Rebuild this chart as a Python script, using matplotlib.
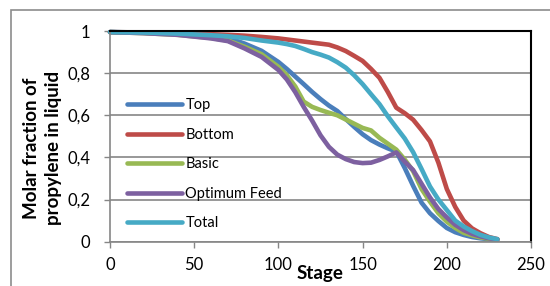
import matplotlib
matplotlib.use("Agg")
import matplotlib.pyplot as plt
from matplotlib.patches import Rectangle

plt.rcParams['font.family'] = ['Lato', 'DejaVu Sans']

# =============================================================================
# data
# =============================================================================
stage = [0, 20, 40, 60, 70, 80, 90, 100, 105, 110, 115, 120, 125, 130, 135,
         140, 145, 150, 155, 160, 165, 170, 175, 180, 185, 190, 195, 200,
         205, 210, 215, 220, 225, 230]

top = [0.995, 0.992, 0.987, 0.978, 0.968, 0.94, 0.906, 0.853, 0.82, 0.784,
       0.748, 0.711, 0.677, 0.646, 0.62, 0.582, 0.545, 0.51, 0.482, 0.461,
       0.443, 0.428, 0.35, 0.265, 0.185, 0.135, 0.098, 0.065, 0.045, 0.032,
       0.022, 0.016, 0.012, 0.01]
bottom = [0.995, 0.993, 0.99, 0.985, 0.982, 0.978, 0.972, 0.965, 0.96, 0.955,
          0.95, 0.945, 0.94, 0.935, 0.922, 0.905, 0.882, 0.858, 0.82, 0.778,
          0.71, 0.636, 0.61, 0.579, 0.53, 0.476, 0.375, 0.25, 0.165, 0.10,
          0.063, 0.04, 0.022, 0.012]
basic = [0.995, 0.99, 0.982, 0.967, 0.955, 0.925, 0.89, 0.83, 0.79, 0.737,
         0.665, 0.64, 0.625, 0.612, 0.6, 0.58, 0.56, 0.54, 0.528, 0.493,
         0.465, 0.437, 0.39, 0.335, 0.25, 0.19, 0.135, 0.095, 0.065, 0.042,
         0.03, 0.02, 0.014, 0.01]
optimum = [0.995, 0.99, 0.982, 0.965, 0.952, 0.917, 0.877, 0.815, 0.77, 0.71,
           0.64, 0.575, 0.505, 0.45, 0.413, 0.392, 0.378, 0.373, 0.375, 0.388,
           0.405, 0.424, 0.38, 0.34, 0.275, 0.21, 0.155, 0.115, 0.08, 0.055,
           0.037, 0.025, 0.016, 0.01]
total = [0.995, 0.993, 0.988, 0.98, 0.975, 0.967, 0.955, 0.945, 0.938, 0.929,
         0.915, 0.9, 0.888, 0.874, 0.852, 0.826, 0.79, 0.748, 0.7, 0.653,
         0.595, 0.542, 0.49, 0.425, 0.345, 0.262, 0.2, 0.15, 0.1, 0.072,
         0.05, 0.032, 0.02, 0.012]

names = ["Top", "Bottom", "Basic", "Optimum Feed", "Total"]
colors = ["#4A7EBB", "#BE4B48", "#98B954", "#7D60A0", "#46AAC5"]
series = [top, bottom, basic, optimum, total]

yticks = [0, 0.2, 0.4, 0.6, 0.8, 1]
ytick_labels = ["0", "0,2", "0,4", "0,6", "0,8", "1"]
xticks = [0, 50, 100, 150, 200, 250]

# =============================================================================
# figure
# =============================================================================
fig = plt.figure(figsize=(5.5, 2.86), dpi=100)
ax = fig.add_axes([0.2, 0.155, 0.7655, 0.7365])

grey = "#868686"
for name, col, vals in zip(names, colors, series):
    ax.plot(stage, vals, color=col, lw=3.3, label=name,
            solid_capstyle='round', solid_joinstyle='round', clip_on=False)

ax.set_xlim(0, 250)
ax.set_ylim(0, 1)
ax.set_xticks(xticks)
ax.set_yticks(yticks)
ax.set_yticklabels(ytick_labels)
ax.grid(axis='y', color=grey, lw=1.2)
ax.set_axisbelow(True)

ax.tick_params(direction='out', length=4.3, width=1, color=grey,
               labelsize=12, colors='black')
ax.tick_params(axis='y', pad=10)
ax.tick_params(axis='x', pad=7)
for s in ['left', 'bottom']:
    ax.spines[s].set_color(grey)
    ax.spines[s].set_linewidth(1.2)
for s in ['top', 'right']:
    ax.spines[s].set_color('black')
    ax.spines[s].set_linewidth(1.5)

fig.text(0.582, 0.0245, "Stage", fontsize=13.5, fontweight='bold',
         ha='center', va='baseline')
fig.text(0.078, 0.483, "Molar fraction of\npropylene in liquid", fontsize=13.5,
         fontweight='bold', rotation=90, ha='center', va='center',
         linespacing=1.35, multialignment='center')

ax.legend(loc='upper left', bbox_to_anchor=(127 / 550, 1 - 98 / 286),
          bbox_transform=fig.transFigure, frameon=False, fontsize=10.5,
          handlelength=3.77, handletextpad=0.24, labelspacing=1.07,
          borderpad=0, borderaxespad=0)

# outer chart border (cropped on right and bottom)
fig.add_artist(Rectangle((11 / 550, -0.2), 1.2, 1.2 - 10 / 286,
                         transform=fig.transFigure, fill=False,
                         ec="#8C8C8C", lw=1.2, clip_on=False))

fig.savefig("out.png", dpi=100)
